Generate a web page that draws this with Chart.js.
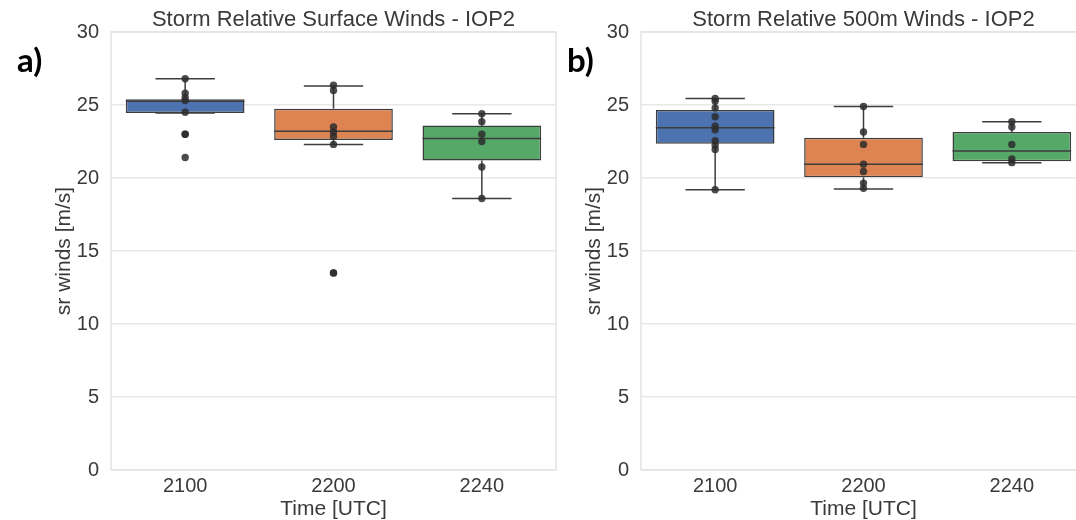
<!DOCTYPE html>
<html>
<head>
<meta charset="utf-8">
<script src="https://cdn.jsdelivr.net/npm/chart.js@4.4.1/dist/chart.umd.min.js"></script>
<style>
  html, body { margin: 0; padding: 0; background: #fff; overflow: hidden; }
  body { width: 1076px; height: 520px; position: relative; }
  canvas { position: absolute; top: 0; }
  #chartA { left: 0; }
  #chartB { left: 530px; }
  .tag { position: absolute; font: bold 33px Lato, "Open Sans", sans-serif; line-height: 32px; color: #000; }
</style>
</head>
<body>
<canvas id="chartA" width="560" height="520"></canvas>
<canvas id="chartB" width="560" height="520"></canvas>
<div class="tag" style="left:17px;top:43px">a)</div>
<div class="tag" style="left:567px;top:43px">b)</div>
<script>
const categories = ["2100", "2200", "2240"];
const boxColors = ["#4c72b0", "#dd8452", "#55a868"];

// a) surface winds: box stats per time
const sfcLow = [24.45, 22.3, 18.6];
const sfcQ1 = [24.45, 22.6, 21.2];
const sfcMed = [25.25, 23.2, 22.7];
const sfcQ3 = [25.4, 24.75, 23.6];
const sfcHigh = [26.8, 26.3, 24.4];
const sfc2100 = [26.8, 25.8, 25.5, 25.3, 24.5, 23.0, 23.0, 21.4];
const sfc2200 = [26.35, 26.0, 23.5, 23.15, 22.85, 22.3, 13.5, 13.5];
const sfc2240 = [24.4, 23.85, 23.0, 22.5, 20.75, 18.6];

// b) 500 m winds
const m500Low = [19.2, 19.25, 21.05];
const m500Q1 = [22.35, 20.05, 21.15];
const m500Med = [23.45, 20.95, 21.85];
const m500Q3 = [24.65, 22.75, 23.15];
const m500High = [25.45, 24.9, 23.85];
const m5002100 = [25.45, 25.25, 24.8, 24.2, 23.55, 23.3, 22.55, 22.25, 21.95, 19.2];
const m5002200 = [24.9, 23.15, 22.3, 20.95, 20.45, 19.65, 19.3];
const m5002240 = [23.85, 23.5, 22.3, 21.3, 21.05];

const FONT = "'Liberation Sans', Arial, sans-serif";
const TXT = "#3a3a3a";
const EDGE = "#3d3d3d";

// whiskers, caps and medians on top of the floating bars
const boxWhiskers = {
  id: "boxWhiskers",
  afterDatasetDraw(chart, args, opts) {
    if (args.meta.type !== "bar") return;
    const { ctx, scales: { x, y } } = chart;
    const half = (x.getPixelForValue(1) - x.getPixelForValue(0)) * 0.4;
    const line = (x0, y0, x1, y1) => {
      ctx.beginPath(); ctx.moveTo(x0, y0); ctx.lineTo(x1, y1); ctx.stroke();
    };
    ctx.save();
    ctx.strokeStyle = EDGE;
    ctx.lineWidth = 1.5;
    opts.low.forEach((lo, i) => {
      const cx = x.getPixelForValue(i);
      const yHi = y.getPixelForValue(opts.high[i]);
      const yLo = y.getPixelForValue(lo);
      line(cx, y.getPixelForValue(opts.q3[i]), cx, yHi);
      line(cx, y.getPixelForValue(opts.q1[i]), cx, yLo);
      line(cx - half / 2, yHi, cx + half / 2, yHi);
      line(cx - half / 2, yLo, cx + half / 2, yLo);
      const ym = y.getPixelForValue(opts.med[i]);
      line(cx - half, ym, cx + half, ym);
    });
    ctx.restore();
  },
};

// light frame round the plot area, title centred over it
const plotFrame = {
  id: "plotFrame",
  beforeDatasetsDraw(chart) {
    const { ctx, chartArea: a } = chart;
    ctx.save();
    ctx.strokeStyle = "#e3e3e3";
    ctx.lineWidth = 1.5;
    ctx.strokeRect(a.left, a.top, a.right - a.left, a.bottom - a.top);
    ctx.restore();
  },
  afterDraw(chart, _args, opts) {
    const { ctx, chartArea: a } = chart;
    ctx.save();
    ctx.fillStyle = TXT;
    ctx.font = `22px ${FONT}`;
    ctx.textAlign = "center";
    ctx.textBaseline = "middle";
    ctx.fillText(opts.title, (a.left + a.right) / 2, 20);
    ctx.restore();
  },
};

function boxChart(canvas, title, low, q1, med, q3, high, points) {
  const pts = points.flatMap((vals, i) => vals.map((v) => ({ x: categories[i], y: v })));
  return new Chart(canvas, {
    type: "bar",
    data: {
      labels: categories,
      datasets: [
        {
          type: "line", data: pts, showLine: false, order: 0,
          pointRadius: 3.7, pointBorderWidth: 0,
          pointBackgroundColor: "rgba(45,45,45,0.85)",
        },
        {
          type: "bar", data: q1.map((v, i) => [v, q3[i]]), order: 1,
          backgroundColor: boxColors, borderColor: EDGE, borderWidth: 1.5,
          borderSkipped: false, barPercentage: 0.8, categoryPercentage: 1,
        },
      ],
    },
    options: {
      responsive: false, animation: false, devicePixelRatio: 1,
      layout: { padding: { left: 52, right: 2, top: 32, bottom: 0 } },
      plugins: {
        legend: { display: false },
        tooltip: { enabled: false },
        title: { display: false },
        plotFrame: { title },
        boxWhiskers: { low, q1, med, q3, high },
      },
      scales: {
        x: {
          offset: true,
          grid: { display: false }, border: { display: false },
          ticks: { color: TXT, font: { size: 20, family: FONT }, padding: -4 },
          title: { display: true, text: "Time [UTC]", color: TXT, font: { size: 21, family: FONT }, padding: { top: 0, bottom: -2 } },
          afterFit: (s) => { s.height = 50; },
        },
        y: {
          min: 0, max: 30,
          ticks: { stepSize: 5, color: TXT, font: { size: 20, family: FONT }, padding: 12 },
          grid: { color: "#e8e8e8", lineWidth: 1.5, drawTicks: false },
          border: { display: false },
          title: { display: true, text: "sr winds [m/s]", color: TXT, font: { size: 21, family: FONT }, padding: 0 },
          afterFit: (s) => { s.width = 59; },
        },
      },
    },
    plugins: [plotFrame, boxWhiskers],
  });
}

boxChart(document.getElementById("chartA"), "Storm Relative Surface Winds - IOP2",
  sfcLow, sfcQ1, sfcMed, sfcQ3, sfcHigh, [sfc2100, sfc2200, sfc2240]);
boxChart(document.getElementById("chartB"), "Storm Relative 500m Winds - IOP2",
  m500Low, m500Q1, m500Med, m500Q3, m500High, [m5002100, m5002200, m5002240]);
</script>
</body>
</html>
